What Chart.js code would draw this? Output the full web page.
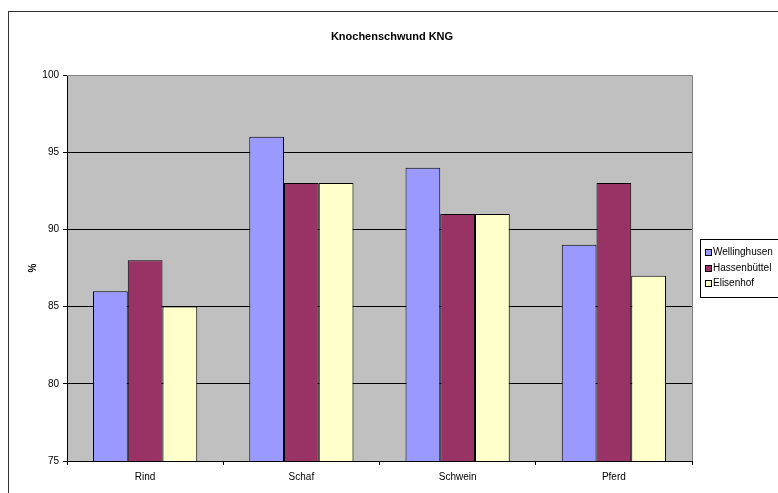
<!DOCTYPE html>
<html>
<head>
<meta charset="utf-8">
<script src="https://cdn.jsdelivr.net/npm/chart.js@4"></script>
<style>
  html, body { margin: 0; padding: 0; background: #fff; }
  #wrap { width: 778px; height: 493px; }
</style>
</head>
<body>
<div id="wrap"><canvas id="kngChart" width="778" height="493"></canvas></div>
<script>
const categories = ['Rind', 'Schaf', 'Schwein', 'Pferd'];
const wellinghusen = [86, 96, 94, 89];
const hassenbuettel = [88, 93, 91, 93];
const elisenhof = [85, 93, 91, 87];
const seriesNames = ['Wellinghusen', 'Hassenbüttel', 'Elisenhof'];
const seriesColors = ['#9999FF', '#993366', '#FFFFCC'];

const FONT = 'Liberation Sans, Arial, sans-serif';

// frame, plot background, title, axis label and legend
const decor = {
    id: 'decor',
    beforeDraw(chart) {
        const { ctx, chartArea: a } = chart;
        ctx.save();
        ctx.fillStyle = '#fff';
        ctx.fillRect(0, 0, chart.width, chart.height);
        ctx.strokeStyle = '#333';
        ctx.lineWidth = 1;
        ctx.strokeRect(8.5, 11.5, 800, 500);
        ctx.fillStyle = '#C0C0C0';
        ctx.fillRect(a.left, a.top, a.right - a.left, a.bottom - a.top);
        ctx.restore();
    },
    afterDraw(chart) {
        const { ctx, chartArea: a } = chart;
        ctx.save();
        // plot border top/right
        ctx.strokeStyle = '#808080';
        ctx.lineWidth = 1;
        ctx.beginPath();
        ctx.moveTo(a.left, a.top + 0.5);
        ctx.lineTo(a.right + 0.5, a.top + 0.5);
        ctx.lineTo(a.right + 0.5, a.bottom);
        ctx.stroke();

        ctx.fillStyle = '#000';
        ctx.font = 'bold 11px ' + FONT;
        ctx.textAlign = 'center';
        ctx.textBaseline = 'middle';
        ctx.fillText('Knochenschwund KNG', 392, 37);

        ctx.translate(33, 268);
        ctx.rotate(-Math.PI / 2);
        ctx.font = 'bold 10px ' + FONT;
        ctx.fillText('%', 0, 0);
        ctx.setTransform(1, 0, 0, 1, 0, 0);

        // legend
        ctx.strokeStyle = '#000';
        ctx.strokeRect(700.5, 239.5, 100, 58);
        ctx.font = '10px ' + FONT;
        ctx.textAlign = 'left';
        const rows = [252, 268, 283];
        seriesNames.forEach((name, i) => {
            ctx.fillStyle = seriesColors[i];
            ctx.fillRect(705, rows[i] - 3, 6, 6);
            ctx.strokeStyle = '#000';
            ctx.strokeRect(705.5, rows[i] - 2.5, 6, 6);
            ctx.fillStyle = '#000';
            ctx.fillText(name, 713, rows[i]);
        });
        ctx.restore();
    }
};

new Chart(document.getElementById('kngChart'), {
    type: 'bar',
    data: {
        labels: categories,
        datasets: [wellinghusen, hassenbuettel, elisenhof].map((d, i) => ({
            label: seriesNames[i],
            data: d,
            backgroundColor: seriesColors[i],
            borderColor: '#000',
            borderWidth: 1,
            borderSkipped: false,
            categoryPercentage: 0.667,
            barPercentage: 1.0
        }))
    },
    options: {
        responsive: false,
        animation: false,
        devicePixelRatio: 1,
        layout: { padding: { top: 75, right: 86, left: 0, bottom: 0 } },
        plugins: {
            legend: { display: false },
            title: { display: false },
            tooltip: { enabled: false }
        },
        scales: {
            x: {
                offset: true,
                afterFit(s) { s.height = 32; },
                grid: {
                    offset: true,
                    drawOnChartArea: false,
                    color: '#000',
                    tickLength: 4
                },
                border: { color: '#000', width: 1 },
                ticks: { color: '#000', font: { family: FONT, size: 10 }, padding: 6 }
            },
            y: {
                min: 75,
                max: 100,
                afterFit(s) { s.width = 67; },
                grid: {
                    color: ctx => ctx.tick && ctx.tick.value === 100 ? '#808080' : '#000',
                    tickColor: '#000',
                    tickLength: 4
                },
                border: { color: '#000', width: 1 },
                ticks: {
                    stepSize: 5,
                    color: '#000',
                    font: { family: FONT, size: 10 },
                    padding: 4
                }
            }
        }
    },
    plugins: [decor]
});
</script>
</body>
</html>
